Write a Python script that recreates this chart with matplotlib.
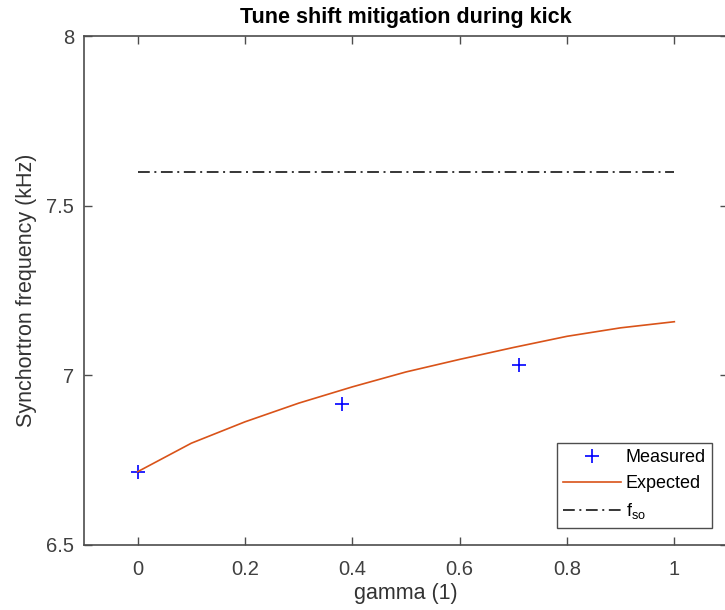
import numpy as np
import matplotlib
matplotlib.use('Agg')
from matplotlib import pyplot as plt

plt.rcParams['font.family'] = ['Liberation Sans', 'DejaVu Sans']
plt.rcParams['mathtext.fontset'] = 'custom'
plt.rcParams['mathtext.rm'] = 'Liberation Sans'
plt.rcParams['mathtext.it'] = 'Liberation Sans'

# measured points
gamma_meas = [0.0, 0.38, 0.71]
f_meas = [6.716, 6.916, 7.030]

# expected curve
gamma_exp = [0.0, 0.1, 0.2, 0.3, 0.4, 0.5, 0.6, 0.7, 0.8, 0.9, 1.0]
f_exp = [6.716, 6.800, 6.863, 6.918, 6.966, 7.010, 7.047, 7.082, 7.115, 7.140, 7.158]

# unperturbed synchrotron frequency
gamma_fso = [0.0, 1.0]
f_so = [7.6, 7.6]

W, H = 725, 610
fig = plt.figure(figsize=(W / 100, H / 100), dpi=100)
ax = fig.add_axes([84 / W, 1 - 545 / H, (728 - 84) / W, (545 - 36) / H])

ax.plot(gamma_meas, f_meas, '+', color='b', markersize=10, markeredgewidth=1.2, label='Measured')
ax.plot(gamma_exp, f_exp, '-', color='#D95319', linewidth=1.2, label='Expected')
ax.plot(gamma_fso, f_so, color='k', linewidth=1.1, dashes=(7.7, 3.0, 1.3, 3.0),
        label=r'f$_{\rm so}$')

ax.set_xlim(-0.1, 1.1)
ax.set_ylim(6.5, 8)
ax.set_xticks([0, 0.2, 0.4, 0.6, 0.8, 1])
ax.set_xticklabels(['0', '0.2', '0.4', '0.6', '0.8', '1'])
ax.set_yticks([6.5, 7, 7.5, 8])
ax.set_yticklabels(['6.5', '7', '7.5', '8'])
ax.tick_params(direction='in', length=6, width=1, color='0.3', labelcolor='0.25',
               labelsize=14.5, top=True, right=True)
ax.tick_params(axis='x', pad=11)
ax.tick_params(axis='y', pad=7)
for s in ax.spines.values():
    s.set_color('0.3')
    s.set_linewidth(1.2)

ax.set_xlabel('gamma (1)', fontsize=15.5, color='0.2', labelpad=3)
ax.set_ylabel('Synchortron frequency (kHz)', fontsize=15.5, color='0.2', labelpad=7)
ax.set_title('Tune shift mitigation during kick', fontsize=15.5, fontweight='bold', pad=9)

leg = ax.legend(loc='upper left', bbox_to_anchor=(557 / W, 1 - 443 / H),
                bbox_transform=fig.transFigure, fontsize=13, fancybox=False,
                framealpha=1, edgecolor='0.3', handlelength=3.2, handletextpad=0.25,
                borderpad=0.35, labelspacing=0.5, borderaxespad=0)
leg.get_frame().set_linewidth(1)

fig.savefig('out.png', dpi=100)
